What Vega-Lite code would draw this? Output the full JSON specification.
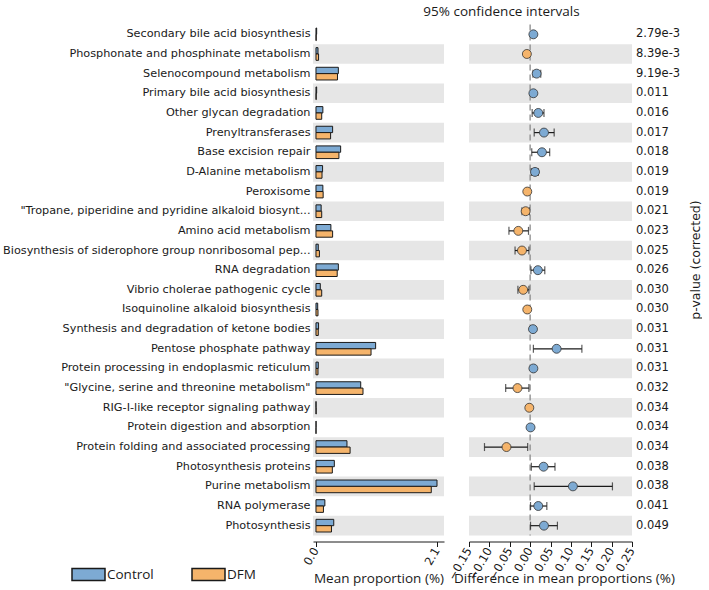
{
  "$schema": "https://vega.github.io/schema/vega-lite/v6.json",
  "padding": {"left": 2, "top": 4.5, "right": 0, "bottom": 0},
  "background": "white",
  "datasets": {
    "rows": [
      {"rank": 1, "pathway": "Secondary bile acid biosynthesis", "Control": 0.012, "DFM": 0.004, "diff": 0.008, "lo": 0.006, "hi": 0.010, "p": "2.79e-3", "enriched": "Control"},
      {"rank": 2, "pathway": "Phosphonate and phosphinate metabolism", "Control": 0.035, "DFM": 0.045, "diff": -0.008, "lo": -0.011, "hi": -0.005, "p": "8.39e-3", "enriched": "DFM"},
      {"rank": 3, "pathway": "Selenocompound metabolism", "Control": 0.39, "DFM": 0.375, "diff": 0.016, "lo": 0.007, "hi": 0.026, "p": "9.19e-3", "enriched": "Control"},
      {"rank": 4, "pathway": "Primary bile acid biosynthesis", "Control": 0.012, "DFM": 0.004, "diff": 0.008, "lo": 0.006, "hi": 0.010, "p": "0.011", "enriched": "Control"},
      {"rank": 5, "pathway": "Other glycan degradation", "Control": 0.12, "DFM": 0.10, "diff": 0.02, "lo": 0.005, "hi": 0.034, "p": "0.016", "enriched": "Control"},
      {"rank": 6, "pathway": "Prenyltransferases", "Control": 0.29, "DFM": 0.255, "diff": 0.034, "lo": 0.01, "hi": 0.059, "p": "0.017", "enriched": "Control"},
      {"rank": 7, "pathway": "Base excision repair", "Control": 0.43, "DFM": 0.40, "diff": 0.029, "lo": 0.004, "hi": 0.048, "p": "0.018", "enriched": "Control"},
      {"rank": 8, "pathway": "D-Alanine metabolism", "Control": 0.115, "DFM": 0.105, "diff": 0.012, "lo": 0.003, "hi": 0.020, "p": "0.019", "enriched": "Control"},
      {"rank": 9, "pathway": "Peroxisome", "Control": 0.12, "DFM": 0.125, "diff": -0.007, "lo": -0.009, "hi": -0.005, "p": "0.019", "enriched": "DFM"},
      {"rank": 10, "pathway": "\"Tropane, piperidine and pyridine alkaloid biosynt...", "Control": 0.09, "DFM": 0.10, "diff": -0.011, "lo": -0.020, "hi": -0.002, "p": "0.021", "enriched": "DFM"},
      {"rank": 11, "pathway": "Amino acid metabolism", "Control": 0.26, "DFM": 0.29, "diff": -0.029, "lo": -0.052, "hi": -0.004, "p": "0.023", "enriched": "DFM"},
      {"rank": 12, "pathway": "Biosynthesis of siderophore group nonribosomal pep...", "Control": 0.04, "DFM": 0.06, "diff": -0.020, "lo": -0.037, "hi": -0.003, "p": "0.025", "enriched": "DFM"},
      {"rank": 13, "pathway": "RNA degradation", "Control": 0.39, "DFM": 0.37, "diff": 0.019, "lo": 0.002, "hi": 0.036, "p": "0.026", "enriched": "Control"},
      {"rank": 14, "pathway": "Vibrio cholerae pathogenic cycle", "Control": 0.075, "DFM": 0.10, "diff": -0.017, "lo": -0.030, "hi": -0.003, "p": "0.030", "enriched": "DFM"},
      {"rank": 15, "pathway": "Isoquinoline alkaloid biosynthesis", "Control": 0.03, "DFM": 0.035, "diff": -0.007, "lo": -0.009, "hi": -0.005, "p": "0.030", "enriched": "DFM"},
      {"rank": 16, "pathway": "Synthesis and degradation of ketone bodies", "Control": 0.045, "DFM": 0.04, "diff": 0.007, "lo": 0.005, "hi": 0.009, "p": "0.031", "enriched": "Control"},
      {"rank": 17, "pathway": "Pentose phosphate pathway", "Control": 1.04, "DFM": 0.96, "diff": 0.065, "lo": 0.008, "hi": 0.127, "p": "0.031", "enriched": "Control"},
      {"rank": 18, "pathway": "Protein processing in endoplasmic reticulum", "Control": 0.04, "DFM": 0.035, "diff": 0.008, "lo": 0.006, "hi": 0.010, "p": "0.031", "enriched": "Control"},
      {"rank": 19, "pathway": "\"Glycine, serine and threonine metabolism\"", "Control": 0.78, "DFM": 0.82, "diff": -0.031, "lo": -0.060, "hi": -0.003, "p": "0.032", "enriched": "DFM"},
      {"rank": 20, "pathway": "RIG-I-like receptor signaling pathway", "Control": 0.001, "DFM": 0.003, "diff": -0.002, "lo": -0.003, "hi": -0.001, "p": "0.034", "enriched": "DFM"},
      {"rank": 21, "pathway": "Protein digestion and absorption", "Control": 0.002, "DFM": 0.001, "diff": 0.001, "lo": 0.0005, "hi": 0.0015, "p": "0.034", "enriched": "Control"},
      {"rank": 22, "pathway": "Protein folding and associated processing", "Control": 0.54, "DFM": 0.595, "diff": -0.058, "lo": -0.112, "hi": -0.006, "p": "0.034", "enriched": "DFM"},
      {"rank": 23, "pathway": "Photosynthesis proteins", "Control": 0.32, "DFM": 0.285, "diff": 0.033, "lo": 0.003, "hi": 0.061, "p": "0.038", "enriched": "Control"},
      {"rank": 24, "pathway": "Purine metabolism", "Control": 2.11, "DFM": 2.01, "diff": 0.105, "lo": 0.010, "hi": 0.202, "p": "0.038", "enriched": "Control"},
      {"rank": 25, "pathway": "RNA polymerase", "Control": 0.155, "DFM": 0.13, "diff": 0.020, "lo": 0.001, "hi": 0.041, "p": "0.041", "enriched": "Control"},
      {"rank": 26, "pathway": "Photosynthesis", "Control": 0.31, "DFM": 0.27, "diff": 0.034, "lo": 0.001, "hi": 0.067, "p": "0.049", "enriched": "Control"}
    ]
  },
  "data": {"name": "rows"},
  "bounds": "flush",
  "spacing": 25,
  "config": {
    "view": {"stroke": null},
    "font": "DejaVu Sans",
    "axis": {
      "labelFont": "DejaVu Sans", "labelFontSize": 11.5, "labelColor": "#1a1a1a",
      "titleFont": "Open Sans", "titleFontSize": 13.5, "titleFontWeight": "normal", "titleColor": "#1a1a1a",
      "domainColor": "#1a1a1a", "tickColor": "#1a1a1a", "grid": false, "labelOverlap": false, "labelBound": false
    }
  },
  "hconcat": [
    {
      "width": 131,
      "height": 511,
      "layer": [
        {
          "transform": [{"filter": "datum.rank % 2 == 0"}],
          "mark": {"type": "rect", "color": "#e6e6e6"},
          "encoding": {
            "y": {"field": "pathway", "type": "nominal",
              "sort": ["Secondary bile acid biosynthesis", "Phosphonate and phosphinate metabolism", "Selenocompound metabolism", "Primary bile acid biosynthesis", "Other glycan degradation", "Prenyltransferases", "Base excision repair", "D-Alanine metabolism", "Peroxisome", "\"Tropane, piperidine and pyridine alkaloid biosynt...", "Amino acid metabolism", "Biosynthesis of siderophore group nonribosomal pep...", "RNA degradation", "Vibrio cholerae pathogenic cycle", "Isoquinoline alkaloid biosynthesis", "Synthesis and degradation of ketone bodies", "Pentose phosphate pathway", "Protein processing in endoplasmic reticulum", "\"Glycine, serine and threonine metabolism\"", "RIG-I-like receptor signaling pathway", "Protein digestion and absorption", "Protein folding and associated processing", "Photosynthesis proteins", "Purine metabolism", "RNA polymerase", "Photosynthesis"],
              "scale": {"paddingInner": 0, "paddingOuter": 0},
              "axis": {"title": null, "ticks": false, "domain": false, "labelPadding": 3, "labelLimit": 400, "labelFontSize": 11.25}}
          }
        },
        {
          "transform": [{"fold": ["Control", "DFM"], "as": ["group", "mean"]}],
          "mark": {"type": "bar", "stroke": "#1a1a1a", "strokeWidth": 1},
          "encoding": {
            "y": {"field": "pathway", "type": "nominal",
              "sort": ["Secondary bile acid biosynthesis", "Phosphonate and phosphinate metabolism", "Selenocompound metabolism", "Primary bile acid biosynthesis", "Other glycan degradation", "Prenyltransferases", "Base excision repair", "D-Alanine metabolism", "Peroxisome", "\"Tropane, piperidine and pyridine alkaloid biosynt...", "Amino acid metabolism", "Biosynthesis of siderophore group nonribosomal pep...", "RNA degradation", "Vibrio cholerae pathogenic cycle", "Isoquinoline alkaloid biosynthesis", "Synthesis and degradation of ketone bodies", "Pentose phosphate pathway", "Protein processing in endoplasmic reticulum", "\"Glycine, serine and threonine metabolism\"", "RIG-I-like receptor signaling pathway", "Protein digestion and absorption", "Protein folding and associated processing", "Photosynthesis proteins", "Purine metabolism", "RNA polymerase", "Photosynthesis"],
              "scale": {"paddingInner": 0, "paddingOuter": 0},
              "axis": {"title": null, "ticks": false, "domain": false, "labelPadding": 3, "labelLimit": 400, "labelFontSize": 11.25}},
            "yOffset": {"field": "group", "type": "nominal", "scale": {"domain": ["Control", "DFM"], "paddingInner": 0, "paddingOuter": 0.55}},
            "x": {"field": "mean", "type": "quantitative",
              "scale": {"domain": [-0.052, 2.232], "nice": false},
              "axis": {"title": "Mean proportion (%)", "values": [0, 2.11], "format": ".1f", "labelAngle": -60, "offset": 6, "tickSize": 5, "labelPadding": 2, "labelOverlap": false, "titleY": 37, "titleBaseline": "middle"}},
            "color": {"field": "group", "type": "nominal",
              "scale": {"domain": ["Control", "DFM"], "range": ["#7daad3", "#f5b46b"]},
              "legend": {"title": null, "orient": "none", "legendX": -231.5, "legendY": 543, "direction": "horizontal", "columns": 2,
                "symbolType": "M-2.75,-1H2.75V1H-2.75Z", "symbolSize": 144, "symbolStrokeColor": "#1a1a1a", "symbolStrokeWidth": 1.5, "symbolOpacity": 1,
                "labelFont": "Open Sans", "labelFontSize": 13.5, "labelColor": "#1a1a1a", "labelOffset": 11.5, "columnPadding": 34}}
          }
        }
      ]
    },
    {
      "bounds": "flush",
      "spacing": 2,
      "hconcat": [
        {
          "width": 163,
          "height": 511,
          "title": {"text": "95% confidence intervals", "font": "Open Sans", "fontSize": 13.5, "fontWeight": "normal", "color": "#1a1a1a", "anchor": "middle", "dx": -49, "offset": 5},
          "layer": [
            {
              "transform": [{"filter": "datum.rank % 2 == 0"}],
              "mark": {"type": "rect", "color": "#e6e6e6"},
              "encoding": {
                "y": {"field": "pathway", "type": "nominal",
                  "sort": ["Secondary bile acid biosynthesis", "Phosphonate and phosphinate metabolism", "Selenocompound metabolism", "Primary bile acid biosynthesis", "Other glycan degradation", "Prenyltransferases", "Base excision repair", "D-Alanine metabolism", "Peroxisome", "\"Tropane, piperidine and pyridine alkaloid biosynt...", "Amino acid metabolism", "Biosynthesis of siderophore group nonribosomal pep...", "RNA degradation", "Vibrio cholerae pathogenic cycle", "Isoquinoline alkaloid biosynthesis", "Synthesis and degradation of ketone bodies", "Pentose phosphate pathway", "Protein processing in endoplasmic reticulum", "\"Glycine, serine and threonine metabolism\"", "RIG-I-like receptor signaling pathway", "Protein digestion and absorption", "Protein folding and associated processing", "Photosynthesis proteins", "Purine metabolism", "RNA polymerase", "Photosynthesis"],
                  "scale": {"paddingInner": 0, "paddingOuter": 0}, "axis": null}
              }
            },
            {
              "data": {"values": [{"zero": 0}]},
              "mark": {"type": "rule", "color": "#8a8a8a", "strokeDash": [6, 4], "strokeWidth": 1.3},
              "encoding": {"x": {"field": "zero", "type": "quantitative", "scale": {"domain": [-0.15, 0.25], "nice": false},
                  "axis": {"title": "Difference in mean proportions (%)", "values": [-0.15, -0.1, -0.05, 0, 0.05, 0.1, 0.15, 0.2, 0.25], "format": ".2f", "labelAngle": -60, "offset": 6, "tickSize": 5, "labelPadding": 2, "labelOverlap": false, "labelSeparation": 0, "titleX": 95, "titleY": 37, "titleBaseline": "middle"}}}
            },
            {
              "mark": {"type": "rule", "color": "#1a1a1a", "strokeWidth": 1.2},
              "encoding": {
                "y": {"field": "pathway", "type": "nominal",
                  "sort": ["Secondary bile acid biosynthesis", "Phosphonate and phosphinate metabolism", "Selenocompound metabolism", "Primary bile acid biosynthesis", "Other glycan degradation", "Prenyltransferases", "Base excision repair", "D-Alanine metabolism", "Peroxisome", "\"Tropane, piperidine and pyridine alkaloid biosynt...", "Amino acid metabolism", "Biosynthesis of siderophore group nonribosomal pep...", "RNA degradation", "Vibrio cholerae pathogenic cycle", "Isoquinoline alkaloid biosynthesis", "Synthesis and degradation of ketone bodies", "Pentose phosphate pathway", "Protein processing in endoplasmic reticulum", "\"Glycine, serine and threonine metabolism\"", "RIG-I-like receptor signaling pathway", "Protein digestion and absorption", "Protein folding and associated processing", "Photosynthesis proteins", "Purine metabolism", "RNA polymerase", "Photosynthesis"],
                  "scale": {"paddingInner": 0, "paddingOuter": 0}, "axis": null},
                "x": {"field": "lo", "type": "quantitative",
                  "axis": {"title": "Difference in mean proportions (%)", "values": [-0.15, -0.1, -0.05, 0, 0.05, 0.1, 0.15, 0.2, 0.25], "format": ".2f", "labelAngle": -60, "offset": 6, "tickSize": 5, "labelPadding": 2, "labelOverlap": false, "labelSeparation": 0, "titleX": 95, "titleY": 37, "titleBaseline": "middle"}},
                "x2": {"field": "hi"}
              }
            },
            {
              "mark": {"type": "tick", "color": "#1a1a1a", "thickness": 1.2, "size": 8},
              "encoding": {
                "y": {"field": "pathway", "type": "nominal",
                  "sort": ["Secondary bile acid biosynthesis", "Phosphonate and phosphinate metabolism", "Selenocompound metabolism", "Primary bile acid biosynthesis", "Other glycan degradation", "Prenyltransferases", "Base excision repair", "D-Alanine metabolism", "Peroxisome", "\"Tropane, piperidine and pyridine alkaloid biosynt...", "Amino acid metabolism", "Biosynthesis of siderophore group nonribosomal pep...", "RNA degradation", "Vibrio cholerae pathogenic cycle", "Isoquinoline alkaloid biosynthesis", "Synthesis and degradation of ketone bodies", "Pentose phosphate pathway", "Protein processing in endoplasmic reticulum", "\"Glycine, serine and threonine metabolism\"", "RIG-I-like receptor signaling pathway", "Protein digestion and absorption", "Protein folding and associated processing", "Photosynthesis proteins", "Purine metabolism", "RNA polymerase", "Photosynthesis"],
                  "scale": {"paddingInner": 0, "paddingOuter": 0}, "axis": null},
                "x": {"field": "lo", "type": "quantitative",
                  "axis": {"title": "Difference in mean proportions (%)", "values": [-0.15, -0.1, -0.05, 0, 0.05, 0.1, 0.15, 0.2, 0.25], "format": ".2f", "labelAngle": -60, "offset": 6, "tickSize": 5, "labelPadding": 2, "labelOverlap": false, "labelSeparation": 0, "titleX": 95, "titleY": 37, "titleBaseline": "middle"}}
              }
            },
            {
              "mark": {"type": "tick", "color": "#1a1a1a", "thickness": 1.2, "size": 8},
              "encoding": {
                "y": {"field": "pathway", "type": "nominal",
                  "sort": ["Secondary bile acid biosynthesis", "Phosphonate and phosphinate metabolism", "Selenocompound metabolism", "Primary bile acid biosynthesis", "Other glycan degradation", "Prenyltransferases", "Base excision repair", "D-Alanine metabolism", "Peroxisome", "\"Tropane, piperidine and pyridine alkaloid biosynt...", "Amino acid metabolism", "Biosynthesis of siderophore group nonribosomal pep...", "RNA degradation", "Vibrio cholerae pathogenic cycle", "Isoquinoline alkaloid biosynthesis", "Synthesis and degradation of ketone bodies", "Pentose phosphate pathway", "Protein processing in endoplasmic reticulum", "\"Glycine, serine and threonine metabolism\"", "RIG-I-like receptor signaling pathway", "Protein digestion and absorption", "Protein folding and associated processing", "Photosynthesis proteins", "Purine metabolism", "RNA polymerase", "Photosynthesis"],
                  "scale": {"paddingInner": 0, "paddingOuter": 0}, "axis": null},
                "x": {"field": "hi", "type": "quantitative",
                  "axis": {"title": "Difference in mean proportions (%)", "values": [-0.15, -0.1, -0.05, 0, 0.05, 0.1, 0.15, 0.2, 0.25], "format": ".2f", "labelAngle": -60, "offset": 6, "tickSize": 5, "labelPadding": 2, "labelOverlap": false, "labelSeparation": 0, "titleX": 95, "titleY": 37, "titleBaseline": "middle"}}
              }
            },
            {
              "mark": {"type": "point", "filled": true, "size": 80, "stroke": "#333333", "strokeWidth": 0.8, "opacity": 1},
              "encoding": {
                "y": {"field": "pathway", "type": "nominal",
                  "sort": ["Secondary bile acid biosynthesis", "Phosphonate and phosphinate metabolism", "Selenocompound metabolism", "Primary bile acid biosynthesis", "Other glycan degradation", "Prenyltransferases", "Base excision repair", "D-Alanine metabolism", "Peroxisome", "\"Tropane, piperidine and pyridine alkaloid biosynt...", "Amino acid metabolism", "Biosynthesis of siderophore group nonribosomal pep...", "RNA degradation", "Vibrio cholerae pathogenic cycle", "Isoquinoline alkaloid biosynthesis", "Synthesis and degradation of ketone bodies", "Pentose phosphate pathway", "Protein processing in endoplasmic reticulum", "\"Glycine, serine and threonine metabolism\"", "RIG-I-like receptor signaling pathway", "Protein digestion and absorption", "Protein folding and associated processing", "Photosynthesis proteins", "Purine metabolism", "RNA polymerase", "Photosynthesis"],
                  "scale": {"paddingInner": 0, "paddingOuter": 0}, "axis": null},
                "x": {"field": "diff", "type": "quantitative",
                  "axis": {"title": "Difference in mean proportions (%)", "values": [-0.15, -0.1, -0.05, 0, 0.05, 0.1, 0.15, 0.2, 0.25], "format": ".2f", "labelAngle": -60, "offset": 6, "tickSize": 5, "labelPadding": 2, "labelOverlap": false, "labelSeparation": 0, "titleX": 95, "titleY": 37, "titleBaseline": "middle"}},
                "color": {"field": "enriched", "type": "nominal", "scale": {"domain": ["Control", "DFM"], "range": ["#7daad3", "#f5b46b"]}, "legend": null}
              }
            }
          ]
        },
        {
          "width": 4,
          "height": 511,
          "mark": {"type": "text", "align": "left", "baseline": "middle", "font": "DejaVu Sans", "fontSize": 11.5, "color": "#1a1a1a"},
          "encoding": {
            "y": {"field": "pathway", "type": "nominal",
              "sort": ["Secondary bile acid biosynthesis", "Phosphonate and phosphinate metabolism", "Selenocompound metabolism", "Primary bile acid biosynthesis", "Other glycan degradation", "Prenyltransferases", "Base excision repair", "D-Alanine metabolism", "Peroxisome", "\"Tropane, piperidine and pyridine alkaloid biosynt...", "Amino acid metabolism", "Biosynthesis of siderophore group nonribosomal pep...", "RNA degradation", "Vibrio cholerae pathogenic cycle", "Isoquinoline alkaloid biosynthesis", "Synthesis and degradation of ketone bodies", "Pentose phosphate pathway", "Protein processing in endoplasmic reticulum", "\"Glycine, serine and threonine metabolism\"", "RIG-I-like receptor signaling pathway", "Protein digestion and absorption", "Protein folding and associated processing", "Photosynthesis proteins", "Purine metabolism", "RNA polymerase", "Photosynthesis"],
              "scale": {"paddingInner": 0, "paddingOuter": 0},
              "axis": {"orient": "right", "labels": false, "ticks": false, "domain": false, "title": "p-value (corrected)", "titleFont": "DejaVu Sans", "titleFontSize": 12.5, "titleAngle": 270, "titleX": 57, "titleY": 235, "titleAlign": "center", "titleBaseline": "middle"}},
            "text": {"field": "p", "type": "nominal"}
          }
        }
      ]
    }
  ]
}
